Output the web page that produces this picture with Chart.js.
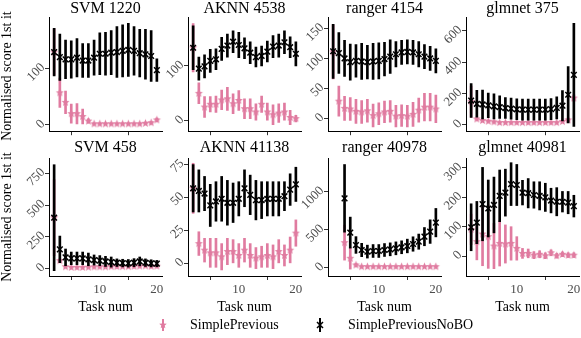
<!DOCTYPE html>
<html>
<head>
<meta charset="utf-8" />
<title>Normalised score 1st it per task</title>
<script src="https://cdn.jsdelivr.net/npm/chart.js"></script>
<style>
  body { margin:0; width:581px; height:338px; position:relative; background:#fff; font-family:"Liberation Serif", serif; overflow:hidden; }
  canvas { position:absolute; }
  .ttl { position:absolute; width:140px; text-align:center; font-size:16px; line-height:16px; color:#000; }
  .xl { position:absolute; width:120px; text-align:center; font-size:14px; line-height:14px; color:#000; }
  .yl { position:absolute; width:170px; text-align:center; font-size:14px; line-height:14px; white-space:nowrap; transform:rotate(-90deg); color:#000; }
  .leg { position:absolute; font-size:14px; line-height:14px; color:#000; white-space:nowrap; }
  svg { position:absolute; }
</style>
</head>
<body>
<script>
const tasks = [2,3,4,5,6,7,8,9,10,11,12,13,14,15,16,17,18,19,20];

// SVM 1220
const svm1220Prev    = [129,57,40,20,20,15,7,2,2,2,2,2,2,2,2,2,3,4,9];
const svm1220PrevErr = [41,26,20,17,18,13,4,2,2,2,2,2,2,2,2,2,2,2,3];
const svm1220NoBO    = [129,120,116,116,119,114,114,119,126,126,128,129,131,133,131,127,125,122,97];
const svm1220NoBOErr = [42,41,34,33,34,30,30,31,37,38,39,45,46,47,43,42,44,45,20];

// AKNN 4538
const aknn4538Prev    = [133,50,25,30,30,38,40,31,37,22,22,16,30,16,11,14,16,6,4];
const aknn4538PrevErr = [44,19,19,14,15,18,21,18,18,18,18,15,15,16,18,17,16,13,6];
const aknn4538NoBO    = [133,95,99,109,112,131,137,144,138,132,124,116,118,126,135,137,143,134,122];
const aknn4538NoBOErr = [40,21,21,21,19,21,21,20,23,19,20,18,18,19,20,21,21,19,22];

// ranger 4154
const ranger4154Prev    = [111,29,17,16,12,11,13,5,8,11,12,4,5,4,7,14,19,19,16];
const ranger4154PrevErr = [45,25,20,19,20,19,19,19,18,18,18,18,18,18,20,20,23,23,23];
const ranger4154NoBO    = [112,109,100,94,96,95,94,95,96,99,103,107,110,111,110,107,103,100,96];
const ranger4154NoBOErr = [45,34,30,30,27,30,28,30,30,28,28,21,20,20,20,21,20,20,20];

// glmnet 375
const glmnet375Prev    = [148,37,27,23,19,14,14,14,14,14,14,14,14,14,14,14,21,31,171];
const glmnet375PrevErr = [100,8,6,5,5,4,4,4,4,4,4,4,4,4,4,4,6,10,20];
const glmnet375NoBO    = [155,134,130,124,118,113,107,103,99,97,97,97,97,97,100,108,122,192,319];
const glmnet375NoBOErr = [108,86,92,78,80,72,67,67,67,67,67,67,67,67,67,70,97,180,330];

// SVM 458
const svm458Prev    = [400,61,13,8,8,8,10,12,12,12,14,14,14,14,16,18,20,16,18];
const svm458PrevErr = [300,12,8,6,6,6,6,6,6,6,6,6,6,6,6,6,8,8,8];
const svm458NoBO    = [400,150,87,79,79,79,71,66,61,55,50,45,42,40,45,55,45,40,38];
const svm458NoBOErr = [418,105,66,50,50,50,50,40,40,40,40,30,30,30,32,35,30,28,25];

// AKNN 41138
const aknn41138Prev    = [57,15,10,8,8,5,9,9,6,10,6,4,5,6,5,9,6,10,23];
const aknn41138PrevErr = [19,9,9,11,11,10,10,9,9,9,9,8,8,9,9,9,8,10,10];
const aknn41138NoBO    = [57,55,53,44,47,49,46,46,49,57,52,48,48,49,49,49,51,56,60];
const aknn41138NoBOErr = [18,16,13,16,15,17,17,15,13,14,15,15,14,13,13,13,11,12,13];

// ranger 40978 (starts at task 4)
const ranger40978Prev    = [null,null,329,123,35,13,13,13,13,13,13,13,13,13,13,13,13,13,13];
const ranger40978PrevErr = [null,null,230,142,20,8,8,8,8,8,8,8,8,8,8,8,8,8,8];
const ranger40978NoBO    = [null,null,912,461,298,232,211,219,219,232,241,254,268,285,311,342,408,474,592];
const ranger40978NoBOErr = [null,null,445,204,110,88,85,85,85,85,85,85,85,90,95,100,120,155,187];

// glmnet 40981
const glmnet40981Prev    = [91,49,75,66,34,43,41,43,26,9,9,3,6,1,11,1,6,3,3];
const glmnet40981PrevErr = [52,62,108,108,77,77,65,57,40,17,15,12,12,10,10,8,8,8,8];
const glmnet40981NoBO    = [98,114,177,162,174,205,216,245,242,216,214,208,205,200,189,185,185,182,170];
const glmnet40981NoBOErr = [80,72,125,97,95,88,80,73,70,42,50,45,48,48,42,48,35,38,37];

const xTicks = [10, 20];

const panels = [
  {title:'SVM 1220',     prev:svm1220Prev, prevErr:svm1220PrevErr, nobo:svm1220NoBO, noboErr:svm1220NoBOErr, yMin:-11, yMax:191, yTicks:[0,100]},
  {title:'AKNN 4538',    prev:aknn4538Prev, prevErr:aknn4538PrevErr, nobo:aknn4538NoBO, noboErr:aknn4538NoBOErr, yMin:-19, yMax:189, yTicks:[0,100]},
  {title:'ranger 4154',  prev:ranger4154Prev, prevErr:ranger4154PrevErr, nobo:ranger4154NoBO, noboErr:ranger4154NoBOErr, yMin:-21, yMax:169, yTicks:[0,50,100,150]},
  {title:'glmnet 375',   prev:glmnet375Prev, prevErr:glmnet375PrevErr, nobo:glmnet375NoBO, noboErr:glmnet375NoBOErr, yMin:-41, yMax:689, yTicks:[0,200,400,600]},
  {title:'SVM 458',      prev:svm458Prev, prevErr:svm458PrevErr, nobo:svm458NoBO, noboErr:svm458NoBOErr, yMin:-60, yMax:871, yTicks:[0,250,500,750]},
  {title:'AKNN 41138',   prev:aknn41138Prev, prevErr:aknn41138PrevErr, nobo:aknn41138NoBO, noboErr:aknn41138NoBOErr, yMin:-9.6, yMax:80, yTicks:[0,25,50,75]},
  {title:'ranger 40978', prev:ranger40978Prev, prevErr:ranger40978PrevErr, nobo:ranger40978NoBO, noboErr:ranger40978NoBOErr, yMin:-110, yMax:1443, yTicks:[0,500,1000]},
  {title:'glmnet 40981', prev:glmnet40981Prev, prevErr:glmnet40981PrevErr, nobo:glmnet40981NoBO, noboErr:glmnet40981NoBOErr, yMin:-68, yMax:334, yTicks:[0,100,200,300]}
];

const PINK = '#e07ba0';
const BLACK = '#000000';
const FONT = "'Liberation Serif', serif";

// layout of the facet grid
const axisX = [49, 188, 328, 466];
const plotTop = [17, 158];
const plotW = 113, plotH = 118, yW = 40, padTop = 20, padRight = 10;

function starImage(color, r) {
  const c = document.createElement('canvas');
  c.width = c.height = Math.ceil(2 * r + 2);
  const g = c.getContext('2d');
  const cx = c.width / 2, cy = c.height / 2;
  g.beginPath();
  for (let k = 0; k < 10; k++) {
    const rad = k % 2 === 0 ? r : r * 0.45;
    const a = -Math.PI / 2 + k * Math.PI / 5;
    const px = cx + rad * Math.cos(a), py = cy + rad * Math.sin(a);
    k === 0 ? g.moveTo(px, py) : g.lineTo(px, py);
  }
  g.closePath();
  g.fillStyle = color;
  g.fill();
  return c;
}
const pinkStar = starImage(PINK, 4.2);

function points(mean) {
  return tasks.map((t, i) => mean[i] == null ? null : {x: t, y: mean[i]}).filter(Boolean);
}
function bars(mean, err) {
  return tasks.map((t, i) => mean[i] == null ? null : {x: t, y: [mean[i] - err[i], mean[i] + err[i]]}).filter(Boolean);
}

function addDiv(cls, text, left, top) {
  const d = document.createElement('div');
  d.className = cls;
  d.textContent = text;
  d.style.left = left + 'px';
  d.style.top = top + 'px';
  document.body.appendChild(d);
}

panels.forEach((p, idx) => {
  const row = Math.floor(idx / 4), col = idx % 4;
  const bottomRow = row === 1;
  const xH = bottomRow ? 24 : 6;
  const cv = document.createElement('canvas');
  cv.width = yW + plotW + padRight;
  cv.height = padTop + plotH + xH;
  cv.style.left = (axisX[col] - yW) + 'px';
  cv.style.top = (plotTop[row] - padTop) + 'px';
  document.body.appendChild(cv);

  new Chart(cv, {
    type: 'scatter',
    data: {
      datasets: [
        {type: 'scatter', label: 'SimplePreviousNoBO', data: points(p.nobo),
         pointStyle: 'crossRot', pointRadius: 4, borderColor: BLACK, borderWidth: 1.5, backgroundColor: BLACK},
        {type: 'bar', label: 'NoBO sd', data: bars(p.nobo, p.noboErr),
         backgroundColor: BLACK, barThickness: 2, grouped: false, borderWidth: 0},
        {type: 'scatter', label: 'SimplePrevious', data: points(p.prev),
         pointStyle: pinkStar, pointRadius: 4, backgroundColor: PINK, borderColor: PINK},
        {type: 'bar', label: 'Prev sd', data: bars(p.prev, p.prevErr),
         backgroundColor: PINK, barThickness: 2, grouped: false, borderWidth: 0}
      ]
    },
    options: {
      responsive: false,
      animation: false,
      layout: {padding: {top: padTop, right: padRight, left: 0, bottom: 0}},
      plugins: {legend: {display: false}, tooltip: {enabled: false}},
      scales: {
        x: {
          type: 'linear', min: 1.1, max: 20.9, offset: false,
          afterBuildTicks: s => { s.ticks = xTicks.map(v => ({value: v})); },
          afterFit: s => { s.height = xH; },
          border: {display: true, color: BLACK, width: 1},
          grid: {display: true, drawOnChartArea: false, drawTicks: true, tickLength: 4, tickColor: '#333'},
          ticks: {display: bottomRow, color: '#4d4d4d', font: {family: FONT, size: 13}, padding: 2, maxRotation: 0}
        },
        y: {
          type: 'linear', min: p.yMin, max: p.yMax,
          afterBuildTicks: s => { s.ticks = p.yTicks.map(v => ({value: v})); },
          afterFit: s => { s.width = yW; },
          border: {display: true, color: BLACK, width: 1},
          grid: {display: true, drawOnChartArea: false, drawTicks: true, tickLength: 4, tickColor: '#333'},
          ticks: {color: '#4d4d4d', font: {family: FONT, size: 13}, padding: 2,
                  minRotation: 45, maxRotation: 45, labelOffset: -3,
                  callback: v => String(v)}
        }
      }
    }
  });

  addDiv('ttl', p.title, axisX[col] + plotW / 2 - 70, row === 0 ? 0 : 139);
  if (bottomRow) addDiv('xl', 'Task num', axisX[col] + plotW / 2 - 60, 300);
});

// y axis titles
addDiv('yl', 'Normalised score 1st it', 7 - 85, 76 - 7);
addDiv('yl', 'Normalised score 1st it', 7 - 85, 217 - 7);

// legend
function legendKey(x, black) {
  const ns = 'http://www.w3.org/2000/svg';
  const s = document.createElementNS(ns, 'svg');
  s.setAttribute('width', 12); s.setAttribute('height', 16);
  s.style.left = (x - 6) + 'px'; s.style.top = '317px';
  const line = document.createElementNS(ns, 'line');
  line.setAttribute('x1', 6); line.setAttribute('x2', 6);
  line.setAttribute('y1', black ? 1 : 2); line.setAttribute('y2', black ? 15 : 14);
  line.setAttribute('stroke', black ? BLACK : PINK); line.setAttribute('stroke-width', 2);
  s.appendChild(line);
  if (black) {
    const p = document.createElementNS(ns, 'path');
    p.setAttribute('d', 'M3 5 L9 11 M9 5 L3 11');
    p.setAttribute('stroke', BLACK); p.setAttribute('stroke-width', 1.5);
    s.appendChild(p);
  } else {
    const pts = [];
    for (let k = 0; k < 10; k++) {
      const rad = k % 2 === 0 ? 4 : 1.8;
      const a = -Math.PI / 2 + k * Math.PI / 5;
      pts.push((6 + rad * Math.cos(a)).toFixed(2) + ',' + (8 + rad * Math.sin(a)).toFixed(2));
    }
    const poly = document.createElementNS(ns, 'polygon');
    poly.setAttribute('points', pts.join(' '));
    poly.setAttribute('fill', PINK);
    s.appendChild(poly);
  }
  document.body.appendChild(s);
}
legendKey(163, false);
addDiv('leg', 'SimplePrevious', 190, 318);
legendKey(320, true);
addDiv('leg', 'SimplePreviousNoBO', 348, 318);
</script>
</body>
</html>
